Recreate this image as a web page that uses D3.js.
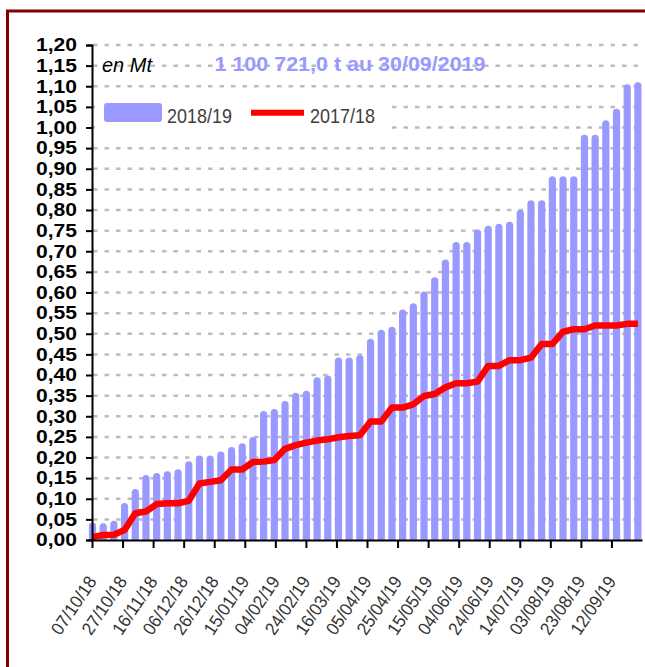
<!DOCTYPE html>
<html>
<head>
<meta charset="utf-8">
<script src="https://cdn.jsdelivr.net/npm/d3@7"></script>
<style>
  body { margin: 0; background: #fff; }
  svg { display: block; }
</style>
</head>
<body>
<svg width="645" height="667"></svg>
<script>
// weekly dates (cumulative tonnage, Mt)
var weekDates = [
    "07/10/18", "14/10/18", "21/10/18", "28/10/18", "04/11/18", "11/11/18", "18/11/18", "25/11/18",
    "02/12/18", "09/12/18", "16/12/18", "23/12/18", "30/12/18", "06/01/19", "13/01/19", "20/01/19",
    "27/01/19", "03/02/19", "10/02/19", "17/02/19", "24/02/19", "03/03/19", "10/03/19", "17/03/19",
    "24/03/19", "31/03/19", "07/04/19", "14/04/19", "21/04/19", "28/04/19", "05/05/19", "12/05/19",
    "19/05/19", "26/05/19", "02/06/19", "09/06/19", "16/06/19", "23/06/19", "30/06/19", "07/07/19",
    "14/07/19", "21/07/19", "28/07/19", "04/08/19", "11/08/19", "18/08/19", "25/08/19", "01/09/19",
    "08/09/19", "15/09/19", "22/09/19", "29/09/19"
];
var values1819 = [
    0.034, 0.032, 0.038, 0.081, 0.115, 0.149, 0.154, 0.158, 0.163, 0.182, 0.196, 0.196, 0.206,
    0.217, 0.226, 0.241, 0.304, 0.309, 0.328, 0.348, 0.353, 0.386, 0.390, 0.434, 0.434, 0.440,
    0.479, 0.501, 0.508, 0.550, 0.565, 0.594, 0.628, 0.671, 0.714, 0.714, 0.744, 0.753, 0.758,
    0.763, 0.792, 0.815, 0.815, 0.873, 0.873, 0.873, 0.974, 0.974, 1.009, 1.037, 1.096, 1.101
];
var values1718 = [
    0.007, 0.012, 0.013, 0.024, 0.065, 0.069, 0.087, 0.089, 0.089, 0.095, 0.137, 0.141, 0.145,
    0.171, 0.171, 0.189, 0.190, 0.194, 0.221, 0.230, 0.236, 0.241, 0.244, 0.249, 0.252, 0.254,
    0.287, 0.287, 0.321, 0.321, 0.329, 0.349, 0.354, 0.370, 0.380, 0.380, 0.384, 0.422, 0.422,
    0.436, 0.436, 0.442, 0.475, 0.475, 0.505, 0.511, 0.511, 0.520, 0.520, 0.520, 0.524, 0.524
];
var xTickLabels = [
    "07/10/18", "27/10/18", "16/11/18", "06/12/18", "26/12/18", "15/01/19", "04/02/19", "24/02/19",
    "16/03/19", "05/04/19", "25/04/19", "15/05/19", "04/06/19", "24/06/19", "14/07/19", "03/08/19",
    "23/08/19", "12/09/19"
];
var yTicks = [0, 0.05, 0.10, 0.15, 0.20, 0.25, 0.30, 0.35, 0.40, 0.45, 0.50, 0.55, 0.60,
    0.65, 0.70, 0.75, 0.80, 0.85, 0.90, 0.95, 1.00, 1.05, 1.10, 1.15, 1.20];
var seriesNames = ["2018/19", "2017/18"];
var titleText = "1 100 721,0 t au 30/09/2019";
var unitText = "en Mt";

var parseDate = d3.utcParse("%d/%m/%y");
var fr = d3.formatLocale({ decimal: ",", thousands: " ", grouping: [3], currency: ["", "€"] });
var fmtY = fr.format(".2f");

var svg = d3.select("svg");

var x = d3.scaleUtc()
    .domain([parseDate("07/10/18"), parseDate("02/10/19")])
    .range([92, 642]);
var y = d3.scaleLinear().domain([0, 1.2]).range([540, 45]);

var data = weekDates.map(function (d, i) {
    return { date: parseDate(d), v1: values1819[i], v2: values1718[i] };
});

// frame
svg.append("rect")
    .attr("x", 7.5).attr("y", 11)
    .attr("width", 700).attr("height", 700)
    .attr("fill", "#fff")
    .attr("stroke", "#800000")
    .attr("stroke-width", 3);

// grid
svg.append("g")
    .selectAll("line")
    .data(yTicks.slice(1))
    .enter()
    .append("line")
    .attr("x1", 93).attr("x2", 642)
    .attr("y1", function (d) { return y(d); })
    .attr("y2", function (d) { return y(d); })
    .attr("stroke", "#bdbdbd")
    .attr("stroke-width", 2.5)
    .attr("stroke-dasharray", "4.5,7");

// bars
svg.append("clipPath").attr("id", "plotclip")
    .append("rect").attr("x", 80).attr("y", 0).attr("width", 570).attr("height", 540);

var bw = 7.2;
svg.append("g")
    .attr("clip-path", "url(#plotclip)")
    .selectAll("rect")
    .data(data)
    .enter()
    .append("rect")
    .attr("x", function (d) { return x(d.date) + 0.5 - bw / 2; })
    .attr("y", function (d) { return y(d.v1) - bw / 2; })
    .attr("width", bw)
    .attr("height", function (d) { return y(0) - y(d.v1) + bw; })
    .attr("rx", bw / 2)
    .attr("fill", "#9999ff");

// 2017/18 line
var line = d3.line()
    .x(function (d) { return x(d.date) + 0.5; })
    .y(function (d) { return y(d.v2); });

svg.append("path")
    .datum(data)
    .attr("d", line)
    .attr("fill", "none")
    .attr("stroke", "#ff0000")
    .attr("stroke-width", 6.5)
    .attr("stroke-linejoin", "round");

// y axis
var yAxis = svg.append("g")
    .attr("transform", "translate(92,0)")
    .call(d3.axisLeft(y).tickValues(yTicks).tickSize(6).tickPadding(9).tickFormat(fmtY));
yAxis.select(".domain").attr("stroke", "#000").attr("stroke-width", 2);
yAxis.selectAll(".tick line").attr("stroke", "#000").attr("stroke-width", 2);
yAxis.selectAll(".tick text")
    .attr("font-family", "'Liberation Sans', Arial, sans-serif")
    .attr("font-weight", "bold")
    .attr("font-size", 18)
    .attr("textLength", 41)
    .attr("lengthAdjust", "spacingAndGlyphs")
    .attr("fill", "#000");

// x axis
var xAxis = svg.append("g")
    .attr("transform", "translate(0,540)")
    .call(d3.axisBottom(x)
        .tickValues(xTickLabels.map(parseDate))
        .tickSize(8)
        .tickSizeOuter(0)
        .tickFormat(""));
xAxis.select(".domain").attr("stroke", "#000").attr("stroke-width", 2);
xAxis.selectAll(".tick line").attr("stroke", "#000").attr("stroke-width", 2);

svg.append("g")
    .selectAll("text")
    .data(xTickLabels)
    .enter()
    .append("text")
    .attr("transform", function (d) {
        return "translate(" + x(parseDate(d)) + ",578) rotate(-56)";
    })
    .attr("text-anchor", "end")
    .attr("dy", "0.35em")
    .attr("font-family", "'Liberation Sans Narrow', 'Liberation Sans', Arial, sans-serif")
    .attr("font-size", 18)
    .attr("fill", "#333")
    .attr("textLength", 66)
    .attr("lengthAdjust", "spacingAndGlyphs")
    .text(function (d) { return d; });

// legend
svg.append("rect")
    .attr("x", 95).attr("y", 91)
    .attr("width", 293).attr("height", 42)
    .attr("fill", "#fff");
svg.append("rect")
    .attr("x", 104).attr("y", 103)
    .attr("width", 58).attr("height", 19)
    .attr("rx", 3)
    .attr("fill", "#9999ff");
svg.append("line")
    .attr("x1", 251).attr("x2", 304)
    .attr("y1", 112.7).attr("y2", 112.7)
    .attr("stroke", "#ff0000")
    .attr("stroke-width", 6);
svg.append("g")
    .selectAll("text")
    .data(seriesNames)
    .enter()
    .append("text")
    .attr("x", function (d, i) { return i == 0 ? 167 : 310; })
    .attr("y", 123)
    .attr("font-family", "'Liberation Sans Narrow', 'Liberation Sans', Arial, sans-serif")
    .attr("font-size", 21)
    .attr("fill", "#404040")
    .attr("textLength", 65)
    .attr("lengthAdjust", "spacingAndGlyphs")
    .text(function (d) { return d; });

// unit and title
svg.append("text")
    .attr("x", 102).attr("y", 72)
    .attr("font-family", "'Liberation Sans', Arial, sans-serif")
    .attr("font-style", "italic")
    .attr("font-size", 20)
    .attr("fill", "#000")
    .text(unitText);

svg.append("text")
    .attr("x", 350).attr("y", 71)
    .attr("text-anchor", "middle")
    .attr("font-family", "'Liberation Sans', Arial, sans-serif")
    .attr("font-weight", "bold")
    .attr("font-size", 21)
    .attr("fill", "#9999ff")
    .attr("textLength", 271)
    .attr("lengthAdjust", "spacingAndGlyphs")
    .text(titleText);
</script>
</body>
</html>
